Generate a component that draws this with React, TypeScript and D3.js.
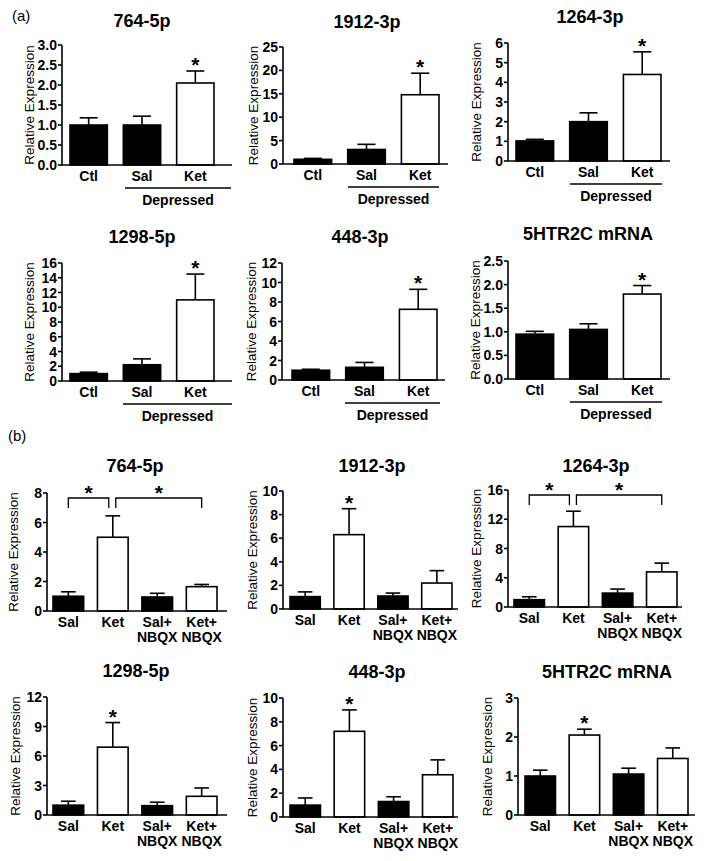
import React from 'react'
import * as d3 from 'd3'

// ---- data ----
const titles = ['764-5p', '1912-3p', '1264-3p', '1298-5p', '448-3p', '5HTR2C mRNA']

const groupsA = ['Ctl', 'Sal', 'Ket']
const fillsA = ['#000', '#000', '#fff']
const meansA = [
  [1.0, 1.0, 2.05],
  [1.0, 3.1, 14.8],
  [1.02, 2.0, 4.4],
  [1.0, 2.2, 11.0],
  [1.0, 1.3, 7.25],
  [0.95, 1.05, 1.8],
]
const semA = [
  [0.18, 0.22, 0.3],
  [0.2, 1.1, 4.6],
  [0.08, 0.45, 1.15],
  [0.2, 0.8, 3.5],
  [0.1, 0.5, 2.05],
  [0.06, 0.12, 0.18],
]
const yMaxA = [3, 25, 6, 16, 12, 2.5]
const yStepA = [0.5, 5, 1, 2, 2, 0.5]
const starsA = [[2], [2], [2], [2], [2], [2]]

const groupsB = [['Sal'], ['Ket'], ['Sal+', 'NBQX'], ['Ket+', 'NBQX']]
const fillsB = ['#000', '#fff', '#000', '#fff']
const meansB = [
  [1.0, 5.0, 0.95, 1.65],
  [1.05, 6.3, 1.1, 2.2],
  [1.0, 11.0, 1.9, 4.8],
  [1.0, 6.9, 0.95, 1.9],
  [1.0, 7.2, 1.3, 3.55],
  [1.0, 2.05, 1.05, 1.45],
]
const semB = [
  [0.3, 1.45, 0.25, 0.15],
  [0.4, 2.2, 0.25, 1.05],
  [0.4, 2.1, 0.55, 1.2],
  [0.4, 2.5, 0.35, 0.85],
  [0.6, 1.8, 0.4, 1.25],
  [0.15, 0.15, 0.15, 0.27],
]
const yMaxB = [8, 10, 16, 12, 10, 3]
const yStepB = [2, 2, 4, 3, 2, 1]
const starsB = [[], [1], [], [1], [1], [1]]
// significance brackets: pairs of bar indices
const bracketsB = [[[0, 1], [1, 3]], [], [[0, 1], [1, 3]], [], [], []]

const depressedLabel = 'Depressed'
const yLabel = 'Relative Expression'

// ---- layout (pixels) ----
type Lay = {
  ax: number; ar: number; yt: number; yb: number; bl: number; br: number
  lx: number; tx: number; ty: number; dl?: number; dr?: number
}
const layA: Lay[] = [
  { ax: 62, ar: 232, yt: 45, yb: 165, bl: 70, br: 214, lx: 29, tx: 142, ty: 27, dl: 125, dr: 231 },
  { ax: 283, ar: 448, yt: 47, yb: 164, bl: 294, br: 439, lx: 253, tx: 367, ty: 28, dl: 348, dr: 439 },
  { ax: 508, ar: 670, yt: 43, yb: 161, bl: 516, br: 661, lx: 476, tx: 590, ty: 23, dl: 570, dr: 662 },
  { ax: 62, ar: 232, yt: 263, yb: 381, bl: 70, br: 214, lx: 29, tx: 142, ty: 243, dl: 123, dr: 232 },
  { ax: 282, ar: 445, yt: 263, yb: 380, bl: 292, br: 437, lx: 251, tx: 360, ty: 243, dl: 345, dr: 440 },
  { ax: 508, ar: 670, yt: 261, yb: 379, bl: 516, br: 661, lx: 475, tx: 588, ty: 240, dl: 570, dr: 662 },
]
const layB: Lay[] = [
  { ax: 47, ar: 227, yt: 493, yb: 611, bl: 53, br: 217, lx: 13, tx: 135, ty: 472 },
  { ax: 283, ar: 458, yt: 491, yb: 609, bl: 290, br: 452, lx: 252, tx: 372, ty: 472 },
  { ax: 508, ar: 682, yt: 490, yb: 607, bl: 514, br: 677, lx: 476, tx: 596, ty: 472 },
  { ax: 47, ar: 227, yt: 697, yb: 815, bl: 53, br: 217, lx: 15, tx: 136, ty: 677 },
  { ax: 283, ar: 458, yt: 698, yb: 817, bl: 290, br: 453, lx: 252, tx: 377, ty: 678 },
  { ax: 518, ar: 695, yt: 698, yb: 815, bl: 525, br: 688, lx: 487, tx: 607, ty: 678 },
]

const FONT = '"Liberation Sans", Arial, Helvetica, sans-serif'

interface PanelProps {
  title: string
  groups: string[][]
  fills: string[]
  means: number[]
  sems: number[]
  yMax: number
  yStep: number
  stars: number[]
  brackets: number[][]
  lay: Lay
  pad: number
}

function Panel({ title, groups, fills, means, sems, yMax, yStep, stars, brackets, lay, pad }: PanelProps) {
  const y = d3.scaleLinear().domain([0, yMax]).range([lay.yb, lay.yt])
  const x = d3
    .scaleBand<number>()
    .domain(groups.map((_, i) => i))
    .range([lay.bl, lay.br])
    .paddingInner(pad)
    .paddingOuter(0)
  const bw = x.bandwidth()
  const cx = (i: number) => (x(i) as number) + bw / 2
  const ticks = d3.range(0, yMax + yStep / 2, yStep)
  const fmt = yStep < 1 ? d3.format('.1f') : d3.format('d')
  const capW = bw * 0.48

  return (
    <g>
      <text x={lay.tx} y={lay.ty} textAnchor="middle" fontSize={18} fontWeight="bold">
        {title}
      </text>
      <text
        transform={`translate(${lay.lx},${(lay.yt + lay.yb) / 2}) rotate(-90)`}
        dy="0.35em"
        textAnchor="middle"
        fontSize={13.5}
      >
        {yLabel}
      </text>

      {/* bars + error bars */}
      {means.map((m, i) => {
        const top = y(m + sems[i])
        return (
          <g key={i}>
            <line x1={cx(i)} x2={cx(i)} y1={y(m)} y2={top} stroke="#000" strokeWidth={1.6} />
            <line x1={cx(i) - capW / 2} x2={cx(i) + capW / 2} y1={top} y2={top} stroke="#000" strokeWidth={1.6} />
            <rect
              x={x(i)}
              y={y(m)}
              width={bw}
              height={lay.yb - y(m)}
              fill={fills[i]}
              stroke="#000"
              strokeWidth={1.6}
            />
          </g>
        )
      })}

      {stars.map((i) => (
        <text key={'s' + i} x={cx(i)} y={y(means[i] + sems[i]) + 1} textAnchor="middle" fontSize={21} fontWeight="bold">
          *
        </text>
      ))}

      {brackets.map(([a, b], k) => {
        const x1 = k === 0 ? cx(a) : cx(a) + 3
        const x2 = k === 0 ? cx(b) - 4 : cx(b)
        const yTop = lay.yt + 5
        const yLeg = yTop + 10
        return (
          <g key={'b' + k}>
            <path d={`M${x1},${yLeg}V${yTop}H${x2}V${yLeg}`} fill="none" stroke="#000" strokeWidth={1.3} />
            <text x={(x1 + x2) / 2} y={yTop + 2} textAnchor="middle" fontSize={21} fontWeight="bold">
              *
            </text>
          </g>
        )
      })}

      {/* y axis */}
      <line x1={lay.ax} x2={lay.ax} y1={lay.yt} y2={lay.yb} stroke="#000" strokeWidth={1.6} />
      {ticks.map((t) => (
        <g key={'t' + t}>
          <line x1={lay.ax - 4} x2={lay.ax} y1={y(t)} y2={y(t)} stroke="#000" strokeWidth={1.6} />
          <text x={lay.ax - 5} y={y(t)} dy="0.36em" textAnchor="end" fontSize={14} fontWeight="bold">
            {fmt(t)}
          </text>
        </g>
      ))}
      {/* x axis */}
      <line x1={lay.ax} x2={lay.ar} y1={lay.yb} y2={lay.yb} stroke="#000" strokeWidth={1.6} />
      {groups.map((g, i) => (
        <text key={'c' + i} x={cx(i)} y={lay.yb + 16} textAnchor="middle" fontSize={14} fontWeight="bold">
          {g.map((line, j) => (
            <tspan key={j} x={cx(i)} dy={j === 0 ? 0 : 15}>
              {line}
            </tspan>
          ))}
        </text>
      ))}

      {lay.dl !== undefined && lay.dr !== undefined && (
        <g>
          <line x1={lay.dl} x2={lay.dr} y1={lay.yb + 23} y2={lay.yb + 23} stroke="#000" strokeWidth={1.3} />
          <text x={(lay.dl + lay.dr) / 2} y={lay.yb + 40} textAnchor="middle" fontSize={14} fontWeight="bold">
            {depressedLabel}
          </text>
        </g>
      )}
    </g>
  )
}

export default function App() {
  return (
    <svg
      width={704}
      height={861}
      style={{ position: 'absolute', left: 0, top: 0, background: '#fff', fontFamily: FONT }}
    >
      <rect width={704} height={861} fill="#fff" />
      <text x={12} y={21} fontSize={15}>(a)</text>
      <text x={8} y={441} fontSize={15}>(b)</text>
      {titles.map((t, k) => (
        <Panel
          key={'a' + k}
          title={t}
          groups={groupsA.map((g) => [g])}
          fills={fillsA}
          means={meansA[k]}
          sems={semA[k]}
          yMax={yMaxA[k]}
          yStep={yStepA[k]}
          stars={starsA[k]}
          brackets={[]}
          lay={layA[k]}
          pad={0.3}
        />
      ))}
      {titles.map((t, k) => (
        <Panel
          key={'b' + k}
          title={t}
          groups={groupsB}
          fills={fillsB}
          means={meansB[k]}
          sems={semB[k]}
          yMax={yMaxB[k]}
          yStep={yStepB[k]}
          stars={starsB[k]}
          brackets={bracketsB[k]}
          lay={layB[k]}
          pad={0.31}
        />
      ))}
    </svg>
  )
}
